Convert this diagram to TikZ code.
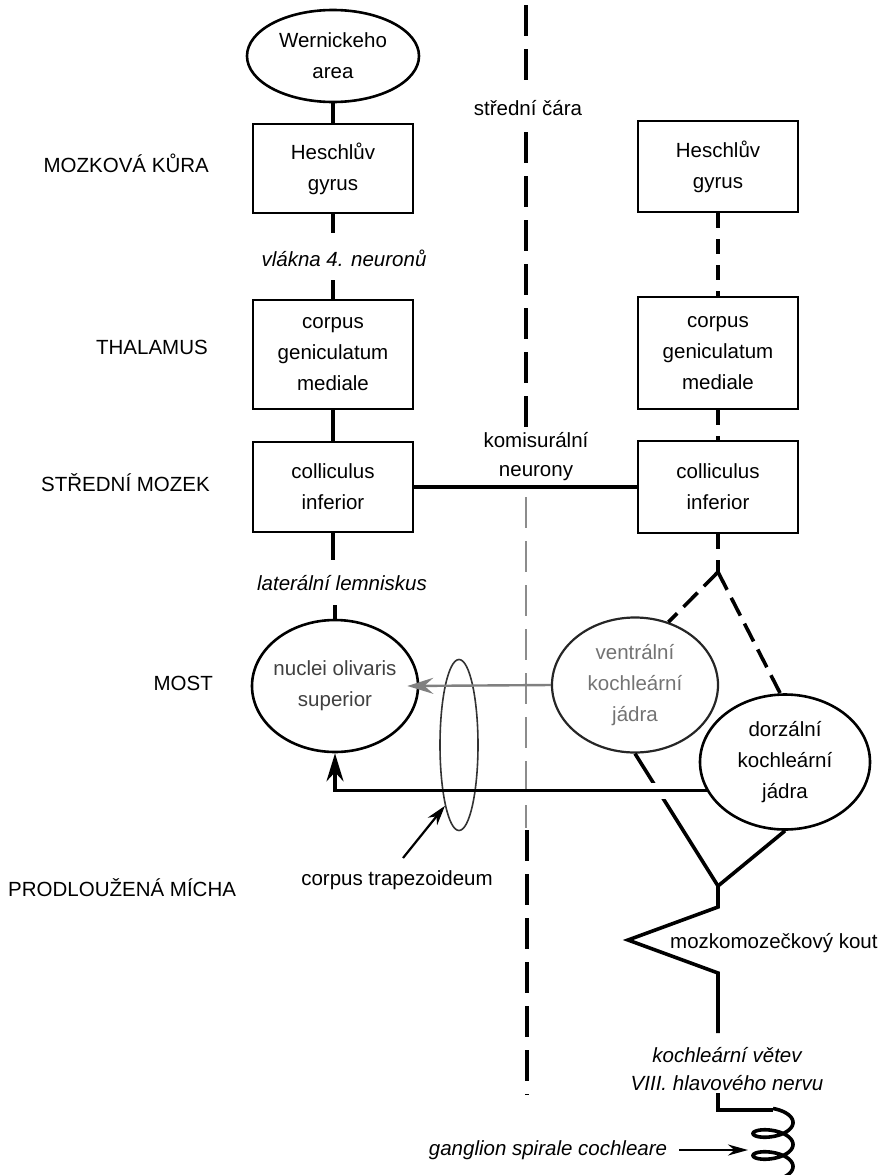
\documentclass[tikz,border=0pt]{standalone}
\usepackage{fontspec}
\setmainfont{Liberation Sans}
\usetikzlibrary{shapes.geometric,arrows.meta,intersections}
\begin{document}
\begin{tikzpicture}[x=1pt,y=-1pt,
  font=\fontsize{20.5}{31}\selectfont,
  box/.style={draw,line width=2.6pt,minimum width=160pt,align=center,inner sep=0pt},
  oval/.style={draw,ellipse,line width=2.6pt,align=center,inner sep=0pt},
  conn/.style={line width=3.6pt},
  dconn/.style={conn,dash pattern=on 15pt off 11pt},
  ddiag/.style={conn,dash pattern=on 20pt off 9pt},
  midl/.style={line width=4pt,dash pattern=on 31pt off 13pt},
  lvl/.style={anchor=east,inner sep=0pt},
  lab/.style={inner sep=0pt,align=center},
  ilab/.style={lab,font=\fontsize{20.5}{28}\selectfont\itshape},
]
\useasboundingbox (0,0) rectangle (891,1175);
\clip (0,0) rectangle (891,1175);

% midline
\draw[midl] (526,5) -- (526,82);
\draw[midl] (526,132) -- (526,432);
\draw[midl,draw=black!45,line width=2.6pt] (526,497) -- (526,828);
\draw[midl] (527,830) -- (527,1095);
\node[lab] (sc) at (528,108) {střední čára};

% level labels
\node[lvl] (l1) at (209,163) {MOZKOVÁ KŮRA};
\node[lvl] (l2) at (208,347) {THALAMUS};
\node[lvl] (l3) at (210,483) {STŘEDNÍ MOZEK};
\node[lvl] (l4) at (213,683) {MOST};
\node[lab,anchor=west] (l5) at (8,888) {PRODLOUŽENÁ MÍCHA};

% left column
\node[oval,minimum width=172pt,minimum height=92pt] (W) at (333,56) {Wernickeho\\area};
\node[box,minimum height=89pt] (H1) at (333,168.5) {Heschlův\\gyrus};
\node[box,minimum height=109pt] (C1) at (333,354.5) {corpus\\geniculatum\\mediale};
\node[box,minimum height=90pt] (K1) at (333,487) {colliculus\\inferior};
\node[oval,minimum width=166pt,minimum height=132pt,inner xsep=-14pt,text=black!75] (O) at (335,686) {nuclei olivaris\\superior};

% right column
\node[box,minimum height=91pt] (H2) at (718,166.5) {Heschlův\\gyrus};
\node[box,minimum height=112pt] (C2) at (718,353) {corpus\\geniculatum\\mediale};
\node[box,minimum height=92pt] (K2) at (718,487) {colliculus\\inferior};
\node[oval,draw=black!85,line width=2.2pt,minimum width=166pt,minimum height=135pt,text=black!55] (V) at (635,685) {ventrální\\kochleární\\jádra};
\node[oval,minimum width=170pt,minimum height=135pt] (D) at (785,762) {dorzální\\kochleární\\jádra};
\node[draw=black!80,ellipse,line width=1.6pt,minimum width=38pt,minimum height=171pt,inner sep=0pt] (T) at (459,745) {};

% labels
\node[ilab] (vl) at (344,258) {vlákna 4. neuronů};
\node[ilab] (lat) at (342,583) {laterální lemniskus};
\node[lab,font=\fontsize{20.5}{29}\selectfont] (kom) at (536,457) {komisurální\\neurony};
\node[lab] (ct) at (397,880) {corpus trapezoideum};
\node[lab,anchor=west] (mk) at (670,943) {mozkomozečkový kout};
\node[ilab] (kv) at (727,1069) {kochleární větev\\VIII. hlavového nervu};
\node[ilab] (gl) at (548,1150) {ganglion spirale cochleare};

% coordinates
\coordinate (a1) at (333,233);
\coordinate (a2) at (333,280);
\coordinate (b1) at (333,560);
\coordinate (b2) at (335,605);
\coordinate (J) at (718,572);
\coordinate (J2) at (718,886);
\coordinate (z1) at (718,907);
\coordinate (z2) at (628,940);
\coordinate (z3) at (718,973);
\coordinate (k1) at (718,1033);
\coordinate (k2) at (718,1093);
\coordinate (k3) at (718,1110);
\coordinate (k4) at (773,1110);
\coordinate (tA) at (403,858);
\coordinate (gA) at (748,1150);

% left connectors
\draw[conn] (W.south) -- (H1.north);
\draw[conn] (H1.south) -- (a1);
\draw[conn] (a2) -- (C1.north);
\draw[conn] (C1.south) -- (K1.north);
\draw[conn] (K1.south) -- (b1);
\draw[conn] (b2) -- (b2 |- O.north);

% commissural
\draw[conn] (K1.east) -- (K2.west);

% right dashed
\draw[dconn] (H2.south) -- (C2.north);
\draw[dconn] (C2.south) -- (K2.north);
\draw[dconn] (K2.south) -- (J);
\draw[ddiag] (J) -- (V.62);
\draw[ddiag] (J) -- (D.94);

% nuclei to brainstem path
\draw[conn] (V.south) -- (J2);
\path[name path=hl] (D.200) -| (O.south);
\path[name path=vd] (V.south) -- (J2);
\path[name intersections={of=hl and vd, by=X}];
\fill[white] ([shift={(-10,-8)}]X) rectangle ([shift={(10,8)}]X);
\draw[conn,-{Stealth[length=28pt,width=17pt]}] (D.200) -| (O.south);
\draw[conn] (D.south) -- (J2) -- (z1) -- (z2) -- (z3) -- (k1);
\draw[conn] (k2) -- (k3) -- (k4);
% spiral ganglion coil
\draw[conn,line join=round] plot[domain=-1.5708:15.5,samples=220,variable=\t]
  ({773+20*cos(\t r)},{1122.5+3.5*\t+8.5*sin(\t r)});

% ventral to olivary (faded)
\draw[line width=2.4pt,draw=black!50,-{Stealth[length=26pt,width=16pt,inset=9pt]}] (V.west) -- ([xshift=-12pt]O.east);

% pointer arrows
\draw[line width=2.2pt,-{Stealth[length=20pt,width=12pt]}] (tA) -- (T.257);
\draw[line width=2.6pt,-{Stealth[length=20pt,width=11pt]}] ([xshift=12pt]gl.east) -- (gA);
\end{tikzpicture}
\end{document}
